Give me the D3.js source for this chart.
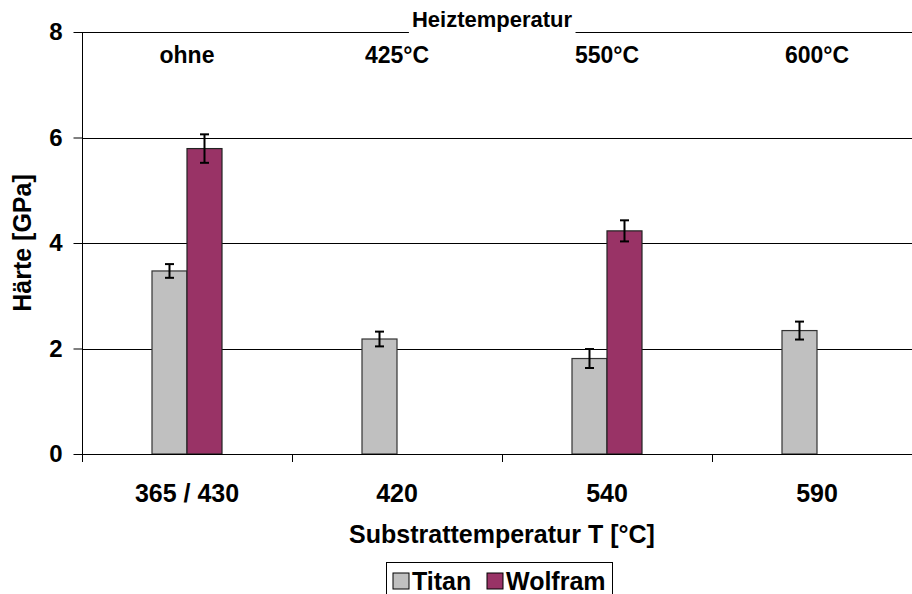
<!DOCTYPE html>
<html><head><meta charset="utf-8">
<script src="https://cdn.jsdelivr.net/npm/d3@7"></script>
<style>
html,body{margin:0;padding:0;background:#fff;}
svg{display:block;font-family:"Liberation Sans",Arial,sans-serif;font-weight:bold;}
</style></head>
<body>
<svg id="chart" width="912" height="594"></svg>
<script>
const categories = ["365 / 430", "420", "540", "590"];
const heatLabels = ["ohne", "425°C", "550°C", "600°C"];
const series = ["Titan", "Wolfram"];
const titan = [3.47, 2.18, 1.81, 2.34];
const titanErr = [0.13, 0.14, 0.18, 0.17];
const wolfram = [5.79, null, 4.23, null];
const wolframErr = [0.27, null, 0.20, null];
const yTicks = [0, 2, 4, 6, 8];
const colors = {"Titan": "#C0C0C0", "Wolfram": "#993366"};

(function () {
const svg = d3.select("#chart");
const mLeft = 82, mRight = 922, mTop = 32, mBottom = 454;
const FF = "Liberation Sans, Arial, sans-serif";

const x = d3.scaleBand().domain(categories).range([mLeft, mRight]).padding(0);
const y = d3.scaleLinear().domain([0, 8]).range([mBottom, mTop]);
const xSub = d3.scaleBand().domain(series).range([-35, 35]).padding(0);

// gridlines
svg.append("g").selectAll("line").data(yTicks.filter(d => d > 0)).join("line")
  .attr("x1", mLeft).attr("x2", 912)
  .attr("y1", d => Math.round(y(d)) + 0.5).attr("y2", d => Math.round(y(d)) + 0.5)
  .attr("stroke", "#000").attr("stroke-width", 1);

// data rows
const rows = [];
categories.forEach((c, i) => {
  rows.push({cat: c, s: "Titan", v: titan[i], e: titanErr[i]});
  if (wolfram[i] != null) rows.push({cat: c, s: "Wolfram", v: wolfram[i], e: wolframErr[i]});
});

const cx = c => x(c) + x.bandwidth() / 2;

svg.append("g").selectAll("rect").data(rows).join("rect")
  .attr("x", d => cx(d.cat) + xSub(d.s))
  .attr("y", d => y(d.v))
  .attr("width", xSub.bandwidth())
  .attr("height", d => y(0) - y(d.v))
  .attr("fill", d => colors[d.s])
  .attr("stroke", d => d.s === "Titan" ? "#333" : "#222")
  .attr("stroke-width", 1.2);

// error bars
const eb = svg.append("g").attr("stroke", "#000").attr("stroke-width", 2);
rows.forEach(d => {
  const mx = cx(d.cat) + xSub(d.s) + xSub.bandwidth() / 2;
  eb.append("line").attr("x1", mx).attr("x2", mx).attr("y1", y(d.v + d.e)).attr("y2", y(d.v - d.e));
  eb.append("line").attr("x1", mx - 4.5).attr("x2", mx + 4.5).attr("y1", y(d.v + d.e)).attr("y2", y(d.v + d.e));
  eb.append("line").attr("x1", mx - 4.5).attr("x2", mx + 4.5).attr("y1", y(d.v - d.e)).attr("y2", y(d.v - d.e));
});

// y axis
const yAxis = svg.append("g").attr("transform", `translate(${mLeft + 0.5},0)`)
  .call(d3.axisLeft(y).tickValues(yTicks).tickSize(9).tickPadding(11).tickFormat(d3.format("d")));
yAxis.select(".domain").attr("d", `M0,${mTop}V${mBottom + 7}`).attr("stroke", "#000");
yAxis.selectAll(".tick line").attr("stroke", "#000");
yAxis.selectAll("text").attr("font-size", 24).attr("font-weight", "bold").attr("font-family", FF).attr("fill", "#000");

// x axis
const xAxis = svg.append("g").attr("transform", `translate(0,${mBottom + 0.5})`)
  .call(d3.axisBottom(x).tickSize(0).tickPadding(30));
xAxis.select(".domain").attr("d", `M${mLeft},0H912`).attr("stroke", "#000");
xAxis.selectAll("text").attr("font-size", 25).attr("font-weight", "bold").attr("font-family", FF).attr("fill", "#000");
// category boundary ticks
svg.append("g").selectAll("line").data(categories).join("line")
  .attr("x1", d => Math.round(x(d)) + 0.5).attr("x2", d => Math.round(x(d)) + 0.5)
  .attr("y1", mBottom).attr("y2", mBottom + 8).attr("stroke", "#000");

// top labels
const bgRect = svg.append("rect").attr("fill", "#fff");
const ht = svg.append("text").attr("x", 492).attr("y", 27).attr("text-anchor", "middle")
  .attr("font-size", 22).text("Heiztemperatur");
const bb = ht.node().getBBox();
bgRect.attr("x", bb.x - 3).attr("y", 28).attr("width", bb.width + 6).attr("height", 8);
svg.append("g").selectAll("text").data(categories).join("text")
  .attr("x", d => cx(d)).attr("y", 63).attr("text-anchor", "middle")
  .attr("font-size", 23).text((d, i) => heatLabels[i]);

// axis titles
svg.append("text").attr("x", (mLeft + mRight) / 2).attr("y", 543).attr("text-anchor", "middle")
  .attr("font-size", 25).text("Substrattemperatur T [°C]");
svg.append("text").attr("transform", `translate(31,243) rotate(-90)`).attr("text-anchor", "middle")
  .attr("font-size", 25).text("Härte [GPa]");

// legend
const lg = svg.append("g");
lg.append("rect").attr("x", 386.5).attr("y", 562.5).attr("width", 226).attr("height", 40)
  .attr("fill", "#fff").attr("stroke", "#000");
const lx = [393, 487];
series.forEach((s, i) => {
  lg.append("rect").attr("x", lx[i]).attr("y", 573).attr("width", 16).attr("height", 16)
    .attr("fill", colors[s]).attr("stroke", "#000");
  lg.append("text").attr("x", lx[i] + 19).attr("y", 590).attr("font-size", 25).text(s);
});
})();
</script>
</body></html>
